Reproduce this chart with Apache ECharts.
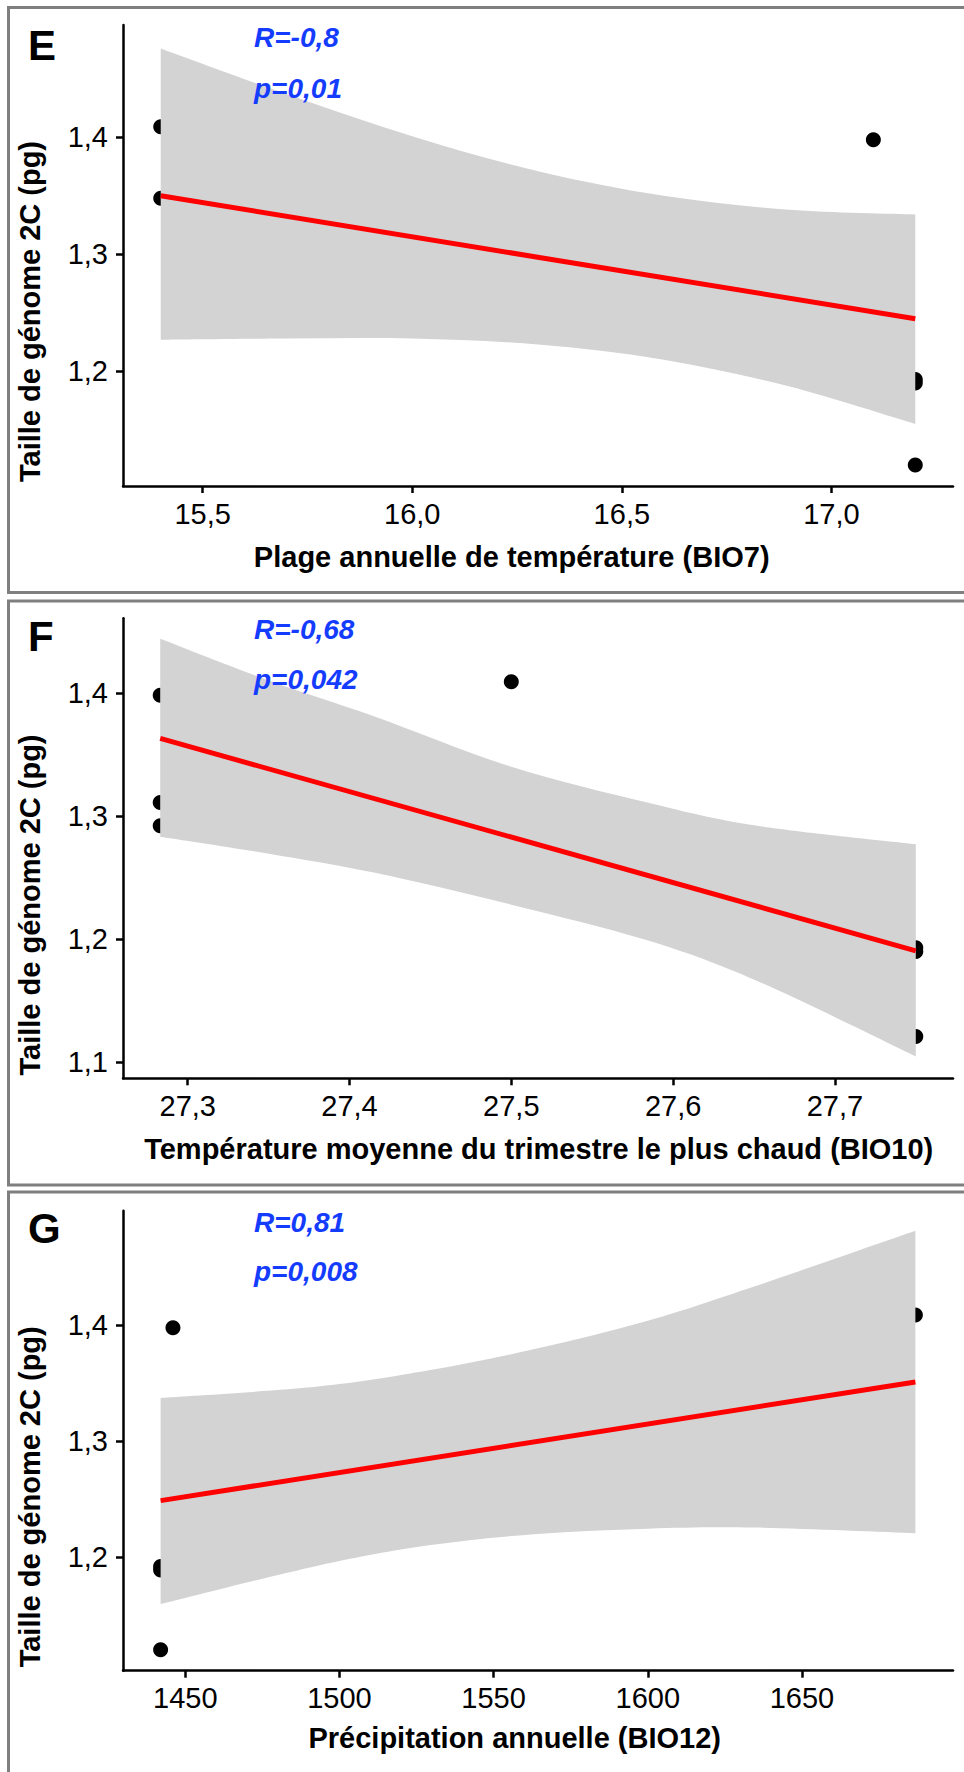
<!DOCTYPE html>
<html>
<head>
<meta charset="utf-8">
<script src="https://cdn.jsdelivr.net/npm/echarts@6/dist/echarts.min.js"></script>
<style>
html, body { margin: 0; padding: 0; background: #ffffff; }
#chart { width: 964px; height: 1772px; }
</style>
</head>
<body>
<div id="chart"></div>
<script>
// ---------------- DATA ----------------
const yTitle = 'Taille de génome 2C (pg)';

// Panel E
const eLetter = 'E';
const eXTitle = 'Plage annuelle de température (BIO7)';
const eStats = ['R=-0,8', 'p=0,01'];
const eXTicks = [15.5, 16.0, 16.5, 17.0];
const eYTicks = [1.2, 1.3, 1.4];
const ePointsX = [15.4, 15.4, 17.1, 17.2, 17.2, 17.2];
const ePointsY = [1.409, 1.348, 1.398, 1.193, 1.190, 1.120];
const eFitX = [15.4, 17.2];
const eFitY = [1.350, 1.245];
const eBandX = [15.4, 15.7, 16.0, 16.3, 16.6, 16.9, 17.2];
const eBandUpper = [1.476, 1.437, 1.401, 1.371, 1.350, 1.338, 1.334];
const eBandLower = [1.227, 1.228, 1.228, 1.223, 1.210, 1.187, 1.155];

// Panel F
const fLetter = 'F';
const fXTitle = 'Température moyenne du trimestre le plus chaud (BIO10)';
const fStats = ['R=-0,68', 'p=0,042'];
const fXTicks = [27.3, 27.4, 27.5, 27.6, 27.7];
const fYTicks = [1.1, 1.2, 1.3, 1.4];
const fPointsX = [27.283, 27.283, 27.283, 27.5, 27.75, 27.75, 27.75];
const fPointsY = [1.398, 1.311, 1.292, 1.409, 1.193, 1.190, 1.121];
const fFitX = [27.283, 27.75];
const fFitY = [1.363, 1.1905];
const fBandX = [27.283, 27.35, 27.415, 27.5, 27.584, 27.652, 27.75];
const fBandUpper = [1.4438, 1.410, 1.381, 1.340, 1.311, 1.292, 1.277];
const fBandLower = [1.2832, 1.2694, 1.254, 1.228, 1.199, 1.166, 1.1048];

// Panel G
const gLetter = 'G';
const gXTitle = 'Précipitation annuelle (BIO12)';
const gStats = ['R=0,81', 'p=0,008'];
const gXTicks = [1450, 1500, 1550, 1600, 1650];
const gYTicks = [1.2, 1.3, 1.4];
const gPointsX = [1446, 1442, 1442, 1442, 1686.8];
const gPointsY = [1.398, 1.192, 1.189, 1.120, 1.409];
const gFitX = [1442, 1686.8];
const gFitY = [1.2488, 1.3512];
const gBandX = [1442, 1493, 1529, 1564, 1600, 1635, 1686.8];
const gBandUpper = [1.3374, 1.3472, 1.3612, 1.380, 1.404, 1.434, 1.4816];
const gBandLower = [1.1595, 1.1926, 1.2102, 1.220, 1.2246, 1.2255, 1.2207];

// ---------------- LAYOUT / STYLE ----------------
const FONT = '"Liberation Sans", Arial, Helvetica, sans-serif';
const fmt1 = v => v.toFixed(1).replace('.', ',');
const fmt0 = v => String(Math.round(v));

const panels = [
  { letter: eLetter, xTitle: eXTitle, stats: eStats, xTicks: eXTicks, yTicks: eYTicks, xFmt: fmt1,
    px: ePointsX, py: ePointsY, fitX: eFitX, fitY: eFitY, bx: eBandX, bu: eBandUpper, bl: eBandLower,
    L: { top: 25, h: 461, xMin: 15.31, xMax: 17.29, yMin: 1.102, yMax: 1.496,
         boxY: 7.5, boxH: 585, letterY: 45.5, rY: 37, pY: 88.6, xtX: 511.7, xtY: 556.7, ytY: 311.5 } },
  { letter: fLetter, xTitle: fXTitle, stats: fStats, xTicks: fXTicks, yTicks: fYTicks, xFmt: fmt1,
    px: fPointsX, py: fPointsY, fitX: fFitX, fitY: fFitY, bx: fBandX, bu: fBandUpper, bl: fBandLower,
    L: { top: 618.3, h: 460, xMin: 27.26, xMax: 27.773, yMin: 1.087, yMax: 1.4605,
         boxY: 601, boxH: 584, letterY: 636.4, rY: 629.6, pY: 679.6, xtX: 538.7, xtY: 1149, ytY: 905 } },
  { letter: gLetter, xTitle: gXTitle, stats: gStats, xTicks: gXTicks, yTicks: gYTicks, xFmt: fmt0,
    px: gPointsX, py: gPointsY, fitX: gFitX, fitY: gFitY, bx: gBandX, bu: gBandUpper, bl: gBandLower,
    L: { top: 1210.7, h: 460, xMin: 1429.8, xMax: 1699, yMin: 1.102, yMax: 1.499,
         boxY: 1192, boxH: 700, letterY: 1228, rY: 1222.6, pY: 1271.3, xtX: 514.7, xtY: 1737.7, ytY: 1496.8 } }
];

// Catmull-Rom -> cubic bezier segments through pixel points (drawing helper only)
function smoothSegments(pts) {
  let d = '';
  const n = pts.length;
  for (let i = 0; i < n - 1; i++) {
    const p0 = pts[Math.max(i - 1, 0)], p1 = pts[i], p2 = pts[i + 1], p3 = pts[Math.min(i + 2, n - 1)];
    const c1x = p1[0] + (p2[0] - p0[0]) / 6, c1y = p1[1] + (p2[1] - p0[1]) / 6;
    const c2x = p2[0] - (p3[0] - p1[0]) / 6, c2y = p2[1] - (p3[1] - p1[1]) / 6;
    d += ' C' + c1x + ',' + c1y + ' ' + c2x + ',' + c2y + ' ' + p2[0] + ',' + p2[1];
  }
  return d;
}

const grids = [], xAxes = [], yAxes = [], series = [], graphics = [];
const axisLineStyle = { show: true, onZero: false, lineStyle: { color: '#000', width: 2.5 } };

panels.forEach((p, i) => {
  const L = p.L;
  grids.push({ left: 123, width: 830, top: L.top, height: L.h, containLabel: false });
  xAxes.push({
    type: 'value', gridIndex: i, min: L.xMin, max: L.xMax,
    axisLine: axisLineStyle,
    axisTick: { show: true, length: 7, customValues: p.xTicks, lineStyle: { color: '#000', width: 2.5 } },
    axisLabel: { customValues: p.xTicks, formatter: p.xFmt, fontSize: 29, color: '#000', fontFamily: FONT, margin: 13 },
    splitLine: { show: false }
  });
  yAxes.push({
    type: 'value', gridIndex: i, min: L.yMin, max: L.yMax,
    axisLine: axisLineStyle,
    axisTick: { show: true, length: 7, customValues: p.yTicks, lineStyle: { color: '#000', width: 2.5 } },
    axisLabel: { customValues: p.yTicks, formatter: fmt1, fontSize: 29, color: '#000', fontFamily: FONT, margin: 15 },
    splitLine: { show: false }
  });

  series.push({
    type: 'scatter', xAxisIndex: i, yAxisIndex: i, z: 1, silent: true,
    symbol: 'circle', symbolSize: 15, itemStyle: { color: '#000', opacity: 1 },
    data: p.px.map((x, k) => [x, p.py[k]])
  });
  series.push({
    type: 'custom', coordinateSystem: 'cartesian2d', xAxisIndex: i, yAxisIndex: i, z: 2, silent: true,
    encode: { x: 0, y: [1, 2] },
    data: p.bx.map((x, k) => [x, p.bl[k], p.bu[k]]),
    renderItem: function (params, api) {
      if (params.dataIndex !== 0) return;
      const up = p.bx.map((x, k) => api.coord([x, p.bu[k]]));
      const lo = p.bx.map((x, k) => api.coord([x, p.bl[k]])).reverse();
      const d = 'M' + up[0][0] + ',' + up[0][1] + smoothSegments(up) +
                ' L' + lo[0][0] + ',' + lo[0][1] + smoothSegments(lo) + ' Z';
      return { type: 'path', shape: { pathData: d }, style: { fill: '#D3D3D3', stroke: null } };
    }
  });
  series.push({
    type: 'line', xAxisIndex: i, yAxisIndex: i, z: 3, silent: true,
    symbol: 'none', lineStyle: { color: '#FF0000', width: 5 },
    data: p.fitX.map((x, k) => [x, p.fitY[k]])
  });

  // panel border
  graphics.push({ type: 'rect', silent: true, z: 0,
    shape: { x: 8.5, y: L.boxY, width: 1000, height: L.boxH },
    style: { fill: 'none', stroke: '#7F7F7F', lineWidth: 3 } });
  // panel letter
  graphics.push({ type: 'text', x: 28, y: L.letterY, z: 10,
    style: { text: p.letter, fill: '#000', fontSize: 42, fontWeight: 'bold', fontFamily: FONT,
             align: 'left', verticalAlign: 'middle', textAlign: 'left', textVerticalAlign: 'middle' } });
  // stats
  [L.rY, L.pY].forEach((yy, k) => {
    graphics.push({ type: 'text', x: 254, y: yy, z: 10,
      style: { text: p.stats[k], fill: '#143CFF', fontSize: 28, fontWeight: 'bold', fontStyle: 'italic', fontFamily: FONT,
               align: 'left', verticalAlign: 'middle', textAlign: 'left', textVerticalAlign: 'middle' } });
  });
  // x title
  graphics.push({ type: 'text', x: L.xtX, y: L.xtY, z: 10,
    style: { text: p.xTitle, fill: '#000', fontSize: 29, fontWeight: 'bold', fontFamily: FONT,
             align: 'center', verticalAlign: 'middle', textAlign: 'center', textVerticalAlign: 'middle' } });
  // y title
  graphics.push({ type: 'text', x: 30, y: L.ytY, rotation: Math.PI / 2, z: 10,
    style: { text: yTitle, fill: '#000', fontSize: 29, fontWeight: 'bold', fontFamily: FONT,
             align: 'center', verticalAlign: 'middle', textAlign: 'center', textVerticalAlign: 'middle' } });
});

const chart = echarts.init(document.getElementById('chart'), null, { renderer: 'svg', width: 964, height: 1772 });
chart.setOption({
  animation: false,
  backgroundColor: '#ffffff',
  grid: grids,
  xAxis: xAxes,
  yAxis: yAxes,
  series: series,
  graphic: { elements: graphics }
});
</script>
</body>
</html>
